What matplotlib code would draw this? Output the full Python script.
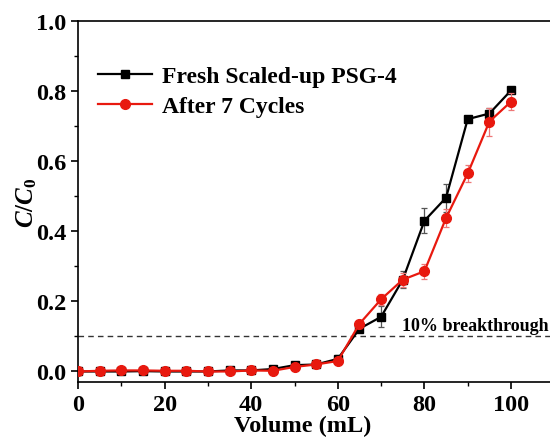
import matplotlib
matplotlib.use("Agg")
import matplotlib.pyplot as plt
from matplotlib.ticker import MultipleLocator
from matplotlib.lines import Line2D

plt.rcParams['font.family'] = ['Liberation Serif', 'DejaVu Serif']
plt.rcParams['font.weight'] = 'bold'
plt.rcParams['mathtext.fontset'] = 'custom'
plt.rcParams['mathtext.it'] = 'Liberation Serif:italic:bold'
plt.rcParams['mathtext.rm'] = 'Liberation Serif:bold'

volume = [0, 5, 10, 15, 20, 25, 30, 35, 40, 45, 50, 55, 60, 65, 70, 75, 80, 85, 90, 95, 100]
fresh = [0.0, 0.0, 0.0, 0.001, 0.0, 0.0, 0.0, 0.003, 0.003, 0.007, 0.018, 0.02, 0.036,
         0.122, 0.156, 0.262, 0.43, 0.496, 0.72, 0.736, 0.802]
fresh_err = [0.003, 0.003, 0.004, 0.003, 0.003, 0.003, 0.003, 0.003, 0.003, 0.004, 0.004, 0.004, 0.01,
             0.006, 0.03, 0.025, 0.036, 0.04, 0.006, 0.015, 0.008]
cycled = [0.0, 0.002, 0.003, 0.003, 0.002, 0.002, 0.0, 0.0, 0.003, 0.002, 0.013, 0.02, 0.03,
          0.136, 0.206, 0.262, 0.286, 0.438, 0.565, 0.713, 0.77]
cycled_err = [0.003, 0.003, 0.003, 0.003, 0.003, 0.003, 0.003, 0.003, 0.003, 0.003, 0.004, 0.004, 0.006,
              0.012, 0.016, 0.02, 0.022, 0.025, 0.025, 0.04, 0.025]
labels = ['Fresh Scaled-up PSG-4', 'After 7 Cycles']
threshold = 0.1

fig = plt.figure(figsize=(5.5, 4.39), dpi=100)
ax = fig.add_axes([78/550, (439-383)/439, 1 - 78/550, (383-22)/439])

black = 'black'
red = '#e8190f'
ax.axhline(threshold, color='#333333', lw=1.0, ls=(0, (4, 3)), zorder=1)
ax.errorbar(volume, fresh, yerr=fresh_err, color=black, ecolor='#555555', elinewidth=0.9,
            capsize=2.5, capthick=0.9, marker='s', ms=6, lw=1.6, zorder=3)
ax.errorbar(volume, cycled, yerr=cycled_err, color=red, ecolor='#ee7777', elinewidth=0.9,
            capsize=2.5, capthick=0.9, marker='o', ms=7, lw=1.6, zorder=4)

ax.text(108.6, 0.108, '10% breakthrough', ha='right', va='bottom', fontsize=13, fontweight='bold')

ax.set_xlim(0, 109)
ax.set_ylim(-0.03, 1.0)
ax.xaxis.set_major_locator(MultipleLocator(20))
ax.xaxis.set_minor_locator(MultipleLocator(10))
ax.yaxis.set_major_locator(MultipleLocator(0.2))
ax.yaxis.set_minor_locator(MultipleLocator(0.1))
ax.tick_params(which='major', direction='out', length=5, width=1.2, labelsize=17.5)
ax.tick_params(which='minor', direction='out', length=3, width=1.0)
ax.yaxis.set_major_formatter(matplotlib.ticker.FormatStrFormatter('%.1f'))
for lab in ax.get_xticklabels() + ax.get_yticklabels():
    lab.set_fontweight('bold')
ax.spines['right'].set_visible(False)
for s in ['left', 'bottom', 'top']:
    ax.spines[s].set_linewidth(1.2)

ax.set_xlabel('Volume (mL)', fontsize=17.5, fontweight='bold')
ax.set_ylabel(r'$\mathit{C/C_0}$', fontsize=18)
ax.xaxis.set_label_coords(0.477, -0.09)
ax.yaxis.set_label_coords(-0.082, 0.5)

handles = [Line2D([], [], color=black, marker='s', ms=6, lw=1.6),
           Line2D([], [], color=red, marker='o', ms=7, lw=1.6)]
ax.legend(handles, labels, loc='upper left', bbox_to_anchor=(-0.003, 0.935), frameon=False,
          prop={'weight': 'bold', 'size': 17}, handlelength=2.3, handletextpad=0.4,
          labelspacing=0.35)

fig.savefig('out.png', dpi=100)
